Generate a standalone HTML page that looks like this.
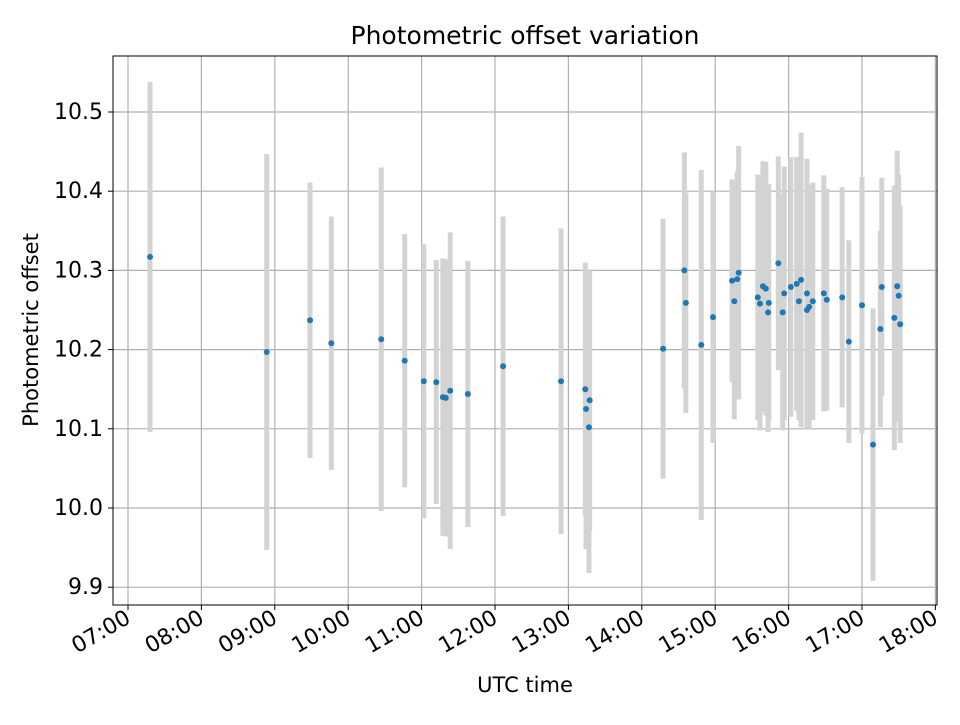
<!DOCTYPE html>
<html><head><meta charset="utf-8"><style>body{margin:0;background:#fff}svg{font-family:"DejaVu Sans","Liberation Sans",sans-serif}</style></head>
<body>
<svg id="c" width="960" height="720" xmlns="http://www.w3.org/2000/svg"></svg>
<script>
const times=[7.30,8.89,9.48,9.77,10.45,10.77,11.03,11.20,11.29,11.33,11.39,11.63,12.11,12.90,13.23,13.24,13.28,13.29,
14.29,14.58,14.60,14.81,14.97,15.23,15.26,15.30,15.32,15.58,15.61,15.65,15.69,15.72,15.73,15.86,15.92,15.94,16.03,16.11,16.14,16.17,16.25,16.25,16.28,16.33,16.48,16.52,16.73,16.82,17.00,17.15,17.25,17.27,17.44,17.48,17.50,17.52];
const offsets=[10.317,10.197,10.237,10.208,10.213,10.186,10.160,10.159,10.140,10.139,10.148,10.144,10.179,10.160,10.150,10.125,10.102,10.136,
10.201,10.300,10.259,10.206,10.241,10.287,10.261,10.289,10.297,10.266,10.258,10.280,10.277,10.247,10.259,10.309,10.247,10.271,10.279,10.283,10.261,10.288,10.271,10.250,10.254,10.261,10.271,10.263,10.266,10.210,10.256,10.080,10.226,10.279,10.240,10.280,10.268,10.232];
const errors=[0.221,0.25,0.174,0.160,0.217,0.160,0.173,0.154,0.175,0.175,0.2,0.168,0.189,0.193,0.160,0.177,0.184,0.164,
0.164,0.149,0.139,0.221,0.159,0.128,0.149,0.136,0.160,0.155,0.16,0.158,0.16,0.151,0.15,0.135,0.149,0.16,0.164,0.16,0.15,0.186,0.17,0.15,0.154,0.15,0.149,0.14,0.139,0.128,0.162,0.172,0.124,0.138,0.167,0.171,0.153,0.15];
const xTicks=["07:00","08:00","09:00","10:00","11:00","12:00","13:00","14:00","15:00","16:00","17:00","18:00"];
const yTicks=[9.9,10.0,10.1,10.2,10.3,10.4,10.5];
const L=113,R=937,T=56,B=605;
const sx=h=>128+(h-7)*73.4;
const sy=v=>112+(10.5-v)*792;
const svg=document.getElementById('c');
const NS="http://www.w3.org/2000/svg";
function mk(tag,attrs,parent){const e=document.createElementNS(NS,tag);for(const k in attrs)e.setAttribute(k,attrs[k]);(parent||svg).appendChild(e);return e;}
const grid=mk('g',{});


xTicks.forEach((t,i)=>{const x=sx(7+i);
 mk('line',{x1:x,x2:x,y1:T,y2:B,stroke:'#b0b0b0','stroke-width':1.2},grid);
 mk('line',{x1:x,x2:x,y1:B,y2:B+5,stroke:'#000','stroke-width':1});
 const tx=mk('text',{x:x+4,y:B+17,'font-size':22,'text-anchor':'end',transform:`rotate(-30 ${x+4} ${B+17})`});
 tx.textContent=t;
 
 
});
yTicks.forEach(v=>{const y=sy(v);
 mk('line',{x1:L,x2:R,y1:y,y2:y,stroke:'#b0b0b0','stroke-width':1.2},grid);
 mk('line',{x1:L-5,x2:L,y1:y,y2:y,stroke:'#000','stroke-width':1});
 const tx=mk('text',{x:L-10,y:y+7,'font-size':22,'text-anchor':'end'});
 tx.textContent=v.toFixed(1);
 
 
});
const bars=mk('g',{});


times.forEach((h,i)=>{const l=mk('line',{x1:sx(h),x2:sx(h),y1:sy(offsets[i]+errors[i]),y2:sy(offsets[i]-errors[i]),stroke:'#d3d3d3','stroke-width':5},bars);
 
 });
const pts=mk('g',{});


times.forEach((h,i)=>{const c=mk('circle',{cx:sx(h),cy:sy(offsets[i]),r:3,fill:'#1f77b4'},pts);
 
 });
const fr=mk('rect',{x:L,y:T,width:R-L,height:B-T,fill:'none',stroke:'#000','stroke-width':1});


const ti=mk('text',{x:525,y:44,'font-size':25,'text-anchor':'middle'});ti.textContent='Photometric offset variation';


const xl=mk('text',{x:525,y:692,'font-size':21,'text-anchor':'middle'});xl.textContent='UTC time';


const yl=mk('text',{x:38,y:330,'font-size':21,'text-anchor':'middle',transform:'rotate(-90 38 330)'});yl.textContent='Photometric offset';


</script>
</body></html>
